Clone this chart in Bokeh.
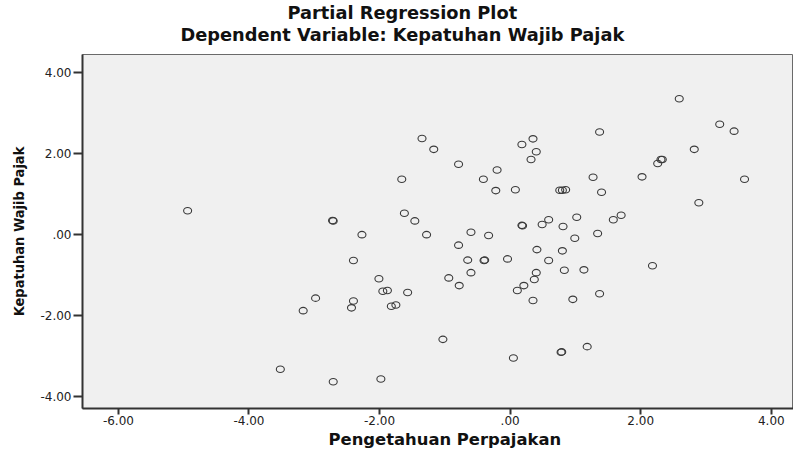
from bokeh.plotting import figure
from bokeh.models import Title, FixedTicker, Range1d
from bokeh.embed import file_html
from bokeh.resources import INLINE

# Partial regression residuals
pengetahuan = [
    -4.94, -2.71, -2.72, -2.27, -1.35, -1.17, -1.66, -1.62, -1.46, -1.28,
    2.59, 3.21, 3.43, 1.37, 0.18, 0.35, 0.40, 0.32, 2.82, 2.31, 2.33, 2.26,
    -0.79, -0.20, -0.41, -0.22, 0.08, 0.76, 0.80, 0.85, 1.27, 2.02, 1.40,
    3.59, 2.89, 1.70, 1.58, 1.02, 0.59, 0.49, 0.81, 0.18, 0.19, 1.34, 0.99,
    -0.60, -0.33, -0.79, 0.41, 0.80, -0.65, -0.40, -0.39, -0.04, 0.59,
    -0.60, -0.94, -0.78, 0.40, 0.37, 0.83, 1.13, 0.21, 0.11, 0.35, 0.96,
    1.37, 2.18, -1.03, 0.05, 0.78, 0.79, 1.18, -2.40, -2.01, -1.95, -1.88,
    -1.57, -1.82, -1.75, -2.98, -3.17, -2.40, -2.43, -3.52, -2.71, -1.98,
]
kepatuhan = [
    0.59, 0.34, 0.35, 0.00, 2.38, 2.11, 1.37, 0.53, 0.34, 0.00,
    3.36, 2.73, 2.56, 2.54, 2.23, 2.37, 2.05, 1.86, 2.11, 1.86, 1.86, 1.76,
    1.74, 1.60, 1.37, 1.09, 1.11, 1.10, 1.10, 1.11, 1.42, 1.43, 1.05,
    1.37, 0.79, 0.48, 0.37, 0.43, 0.37, 0.25, 0.20, 0.23, 0.22, 0.03, -0.09,
    0.06, -0.02, -0.26, -0.37, -0.40, -0.63, -0.64, -0.63, -0.60, -0.64,
    -0.94, -1.07, -1.26, -0.94, -1.11, -0.88, -0.87, -1.26, -1.38, -1.63, -1.60,
    -1.46, -0.77, -2.59, -3.05, -2.91, -2.90, -2.77, -0.64, -1.09, -1.40, -1.38,
    -1.43, -1.77, -1.74, -1.57, -1.88, -1.64, -1.81, -3.33, -3.64, -3.57,
]

x_ticks = [-6, -4, -2, 0, 2, 4]
x_tick_labels = ["-6.00", "-4.00", "-2.00", ".00", "2.00", "4.00"]
y_ticks = [-4, -2, 0, 2, 4]
y_tick_labels = ["-4.00", "-2.00", ".00", "2.00", "4.00"]

title_main = "Partial Regression Plot"
title_sub = "Dependent Variable: Kepatuhan Wajib Pajak"
x_label = "Pengetahuan Perpajakan"
y_label = "Kepatuhan Wajib Pajak"

WIDE = "DejaVu Sans"
NARROW = "Liberation Sans Narrow, DejaVu Sans Condensed, Liberation Sans"

p = figure(width=793, height=449, output_backend="svg", toolbar_location=None,
           x_range=Range1d(-6.55, 4.34), y_range=Range1d(-4.30, 4.456),
           min_border_left=82, min_border_right=0, min_border_top=54,
           min_border_bottom=30, background_fill_color="#f0f0f0",
           border_fill_color="white")
p.title.visible = False

t2 = Title(text=title_sub, align="left", offset=98, text_font=WIDE,
           text_font_size="17.8px", text_font_style="bold", text_color="#111111",
           standoff=20)
t1 = Title(text=title_main, align="left", offset=205, text_font=WIDE,
           text_font_size="17.8px", text_font_style="bold", text_color="#111111",
           standoff=-22)
p.add_layout(t2, "above")
p.add_layout(t1, "above")

p.grid.visible = False
p.outline_line_color = "#6a6a6a"
p.outline_line_width = 1

for ax in (p.xaxis[0], p.yaxis[0]):
    ax.axis_line_color = "#333333"
    ax.axis_line_width = 2
    ax.major_tick_line_color = "#333333"
    ax.major_tick_line_width = 2
    ax.major_tick_in = 0
    ax.minor_tick_line_color = None
    ax.major_label_text_font = WIDE
    ax.major_label_text_font_size = "12px"
    ax.major_label_text_color = "#222222"

p.xaxis.major_tick_out = 6
p.xaxis.major_label_standoff = 1
p.yaxis.major_tick_out = 9
p.yaxis.major_label_standoff = 2

p.xaxis.ticker = FixedTicker(ticks=x_ticks)
p.xaxis.major_label_overrides = dict(zip(x_ticks, x_tick_labels))
p.yaxis.ticker = FixedTicker(ticks=y_ticks)
p.yaxis.major_label_overrides = dict(zip(y_ticks, y_tick_labels))

# x-axis title placed under the axis, shifted to where the reference has it
xt = Title(text=x_label, align="left", offset=246, text_font=WIDE,
           text_font_size="16.4px", text_font_style="bold", text_color="#111111",
           standoff=1)
p.add_layout(xt, "below")

p.yaxis.axis_label = y_label
p.yaxis.axis_label_text_font = NARROW
p.yaxis.axis_label_text_font_size = "14.5px"
p.yaxis.axis_label_text_font_style = "bold"
p.yaxis.axis_label_text_color = "#111111"
p.yaxis.axis_label_standoff = 10

p.ellipse(x=pengetahuan, y=kepatuhan, width=8, height=6.5,
          width_units="screen", height_units="screen",
          fill_color=None, line_color="#3a3a3a", line_width=1.1)

open("out.html", "w").write(file_html(p, INLINE))
